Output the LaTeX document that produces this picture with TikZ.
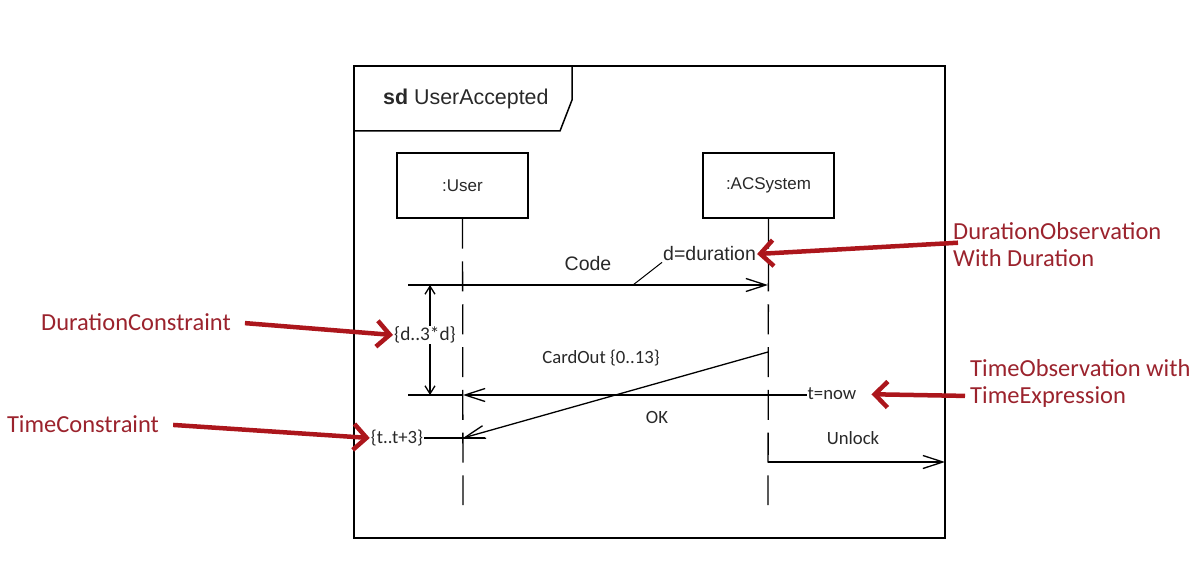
\documentclass[tikz,border=0pt]{standalone}
\usepackage{fontspec}
\setmainfont{Liberation Sans}
\newfontfamily\notefont{Carlito}
\usepackage{tikz}
\usetikzlibrary{arrows.meta,positioning}
\definecolor{notered}{RGB}{155,35,45}
\definecolor{arrowred}{RGB}{172,22,28}
\definecolor{inkgray}{RGB}{40,40,40}

\begin{document}
\begin{tikzpicture}[x=1pt,y=1pt]
  \tikzset{HeadStyle/.style = {shape          = rectangle,
                               draw,
                               line width     = 1.3pt,
                               minimum width  = 131pt,
                               minimum height = 65pt,
                               text           = inkgray,
                               font           = \fontsize{17}{20}\selectfont}}
  \tikzset{LifeStyle/.style = {line width=1.3pt, dash pattern=on 30pt off 12.8pt}}
  \tikzset{MsgStyle/.style = {line width=1.3pt, -{Straight Barb[length=20pt,width=13pt]}}}
  \tikzset{TickStyle/.style = {line width=1.3pt, -{Straight Barb[length=8pt,width=10pt]}}}
  \tikzset{TextStyle/.style = {inner sep=1pt, text=inkgray, font=\fontsize{19.5}{23}\selectfont}}
  \tikzset{LabelStyle/.style = {inner sep=1pt, text=inkgray, font=\notefont\fontsize{18.7}{22}\selectfont}}
  \tikzset{NoteStyle/.style = {text=notered, align=left, inner sep=0pt,
                               font=\notefont\fontsize{24.5}{27}\selectfont}}
  \tikzset{PointerStyle/.style = {draw=arrowred, line width=4.5pt,
                                  -{Straight Barb[length=13pt,width=26pt]}}}
  \useasboundingbox (0,0) rectangle (1198,-577);
  %%% FRAME %%%
  \draw[line width=1.8pt] (354,-66) rectangle (945,-538);
  \draw[line width=1.5pt] (354,-131) -- (560,-131) -- (572,-100) -- (572,-66);
  \node[anchor=west, inner sep=0pt, text=inkgray, font=\fontsize{21.4}{25}\selectfont](title) at (383,-99){\textbf{sd} UserAccepted};
  %%% LIFELINES %%%
  \node[HeadStyle](user) at (462.5,-185.5){:User};
  \node[HeadStyle](acs) at (768.5,-185.5){:ACSystem};
  \coordinate (userEnd) at (463,-505);
  \coordinate (acsEnd) at (768,-505);
  \draw[LifeStyle](user.south) -- (userEnd);
  \draw[LifeStyle](acs.south) -- (acsEnd);
  %%% CODE %%%
  \coordinate (codeL) at (408,-285);
  \coordinate (codeR) at (768,-285);
  \draw[MsgStyle](codeL) -- (codeR);
  \node[TextStyle](code) at (588,-264){Code};
  \node[TextStyle, anchor=west](dObs) at (662,-254){d=duration};
  \coordinate (dFoot) at (633,-285);
  \draw[line width=1pt](dFoot) -- (dObs.south west);
  %%% DURATION CONSTRAINT %%%
  \node[LabelStyle, font=\notefont\fontsize{19.3}{22}\selectfont](dCon) at (425,-335){\{d..3*d\}};
  \coordinate (dTop) at (430,-285);
  \coordinate (dBot) at (430,-395);
  \draw[TickStyle](dCon.north -| dTop) -- (dTop);
  \draw[TickStyle](dCon.south -| dBot) -- (dBot);
  %%% CARDOUT / OK %%%
  \coordinate (cardS) at (768,-352);
  \coordinate (cardE) at (463,-438);
  \draw[MsgStyle](cardS) -- (cardE);
  \node[LabelStyle](card) at (601,-358){CardOut \{0..13\}};
  \node[LabelStyle](tNow) at (832,-394){t=now};
  \coordinate (okE) at (463,-395);
  \coordinate (okL) at (408,-395);
  \draw[MsgStyle](tNow.west |- okE) -- (okE);
  \draw[line width=1.3pt](okE) -- (okL);
  \node[LabelStyle](ok) at (657,-417){OK};
  %%% TIME CONSTRAINT %%%
  \node[LabelStyle](tCon) at (397,-438){\{t..t+3\}};
  \coordinate (tTick) at (485,-438);
  \draw[line width=1.3pt](tCon.east) -- (tTick);
  %%% UNLOCK %%%
  \coordinate (unlockS) at (768,-462);
  \coordinate (unlockE) at (945,-462);
  \draw[MsgStyle](unlockS) -- (unlockE);
  \node[LabelStyle](unlock) at (853,-438){Unlock};
  %%% NOTES %%%
  \node[NoteStyle, anchor=west](durObsNote) at (953,-245){DurationObservation\\With Duration};
  \node[NoteStyle, anchor=west](timeObsNote) at (970,-383){TimeObservation with\\TimeExpression};
  \node[NoteStyle](durConNote) at (136,-322){DurationConstraint};
  \node[NoteStyle](tConNote) at (83,-424){TimeConstraint};
  \draw[PointerStyle, shorten <=-5pt]([yshift=2pt]durObsNote.west) -- (dObs.east);
  \draw[PointerStyle, shorten <=5pt, shorten >=14pt]([yshift=-13pt]timeObsNote.west) -- (tNow.east);
  \draw[PointerStyle, shorten <=14pt](durConNote.east) -- (dCon.west);
  \draw[PointerStyle, shorten <=14pt](tConNote.east) -- (tCon.west);
\end{tikzpicture}
\end{document}
